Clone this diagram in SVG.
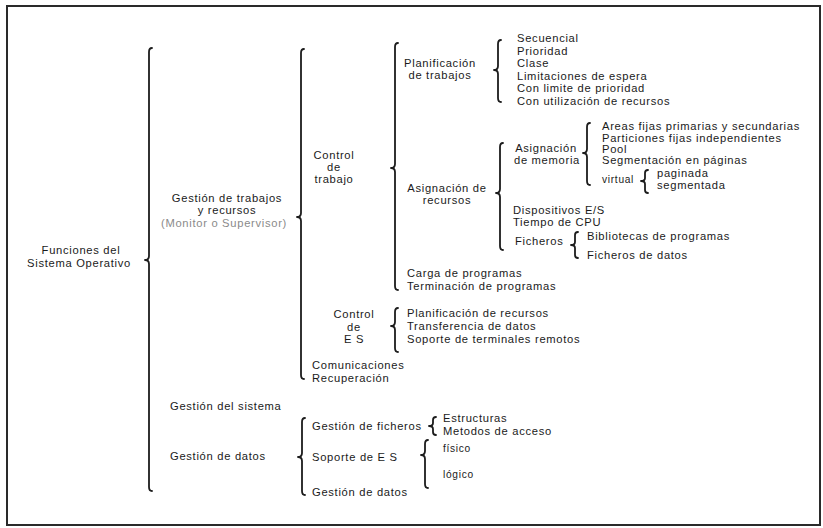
<svg xmlns="http://www.w3.org/2000/svg" width="823" height="528" viewBox="0 0 823 528">
  <style>
    .frame { fill: none; stroke: #2a2a2a; stroke-width: 2; }
    .brace { fill: none; stroke: #1c1c1c; stroke-width: 1.8; stroke-linecap: round; stroke-linejoin: round; }
    text { font-family: "Liberation Sans", Arial, sans-serif; font-size: 11.2px; letter-spacing: 0.7px; fill: #1a1a1a; }
    .c { text-anchor: middle; }
    .sm { font-size: 10.2px; }
    .faded { fill: #8a8a8a; }
  </style>

  <rect width="823" height="528" fill="#ffffff"/>
  <rect class="frame" x="7" y="6" width="813" height="519"/>

  <!-- braces: top end, cusp, bottom end -->
  <g id="connectors">
    <path class="brace" d="M152,48 Q149,48 149,52 L149,256 Q149,260 145,260 Q149,260 149,264 L149,487 Q149,491 152,491"/>
    <path class="brace" d="M304,49 Q301,49 301,53 L301,213 Q301,217 297,217 Q301,217 301,221 L301,375 Q301,379 304,379"/>
    <path class="brace" d="M305,418 Q302,418 302,422 L302,453 Q302,457 298,457 Q302,457 302,461 L302,491 Q302,495 305,495"/>
    <path class="brace" d="M398,43 Q395,43 395,47 L395,164 Q395,168 391,168 Q395,168 395,172 L395,286 Q395,290 398,290"/>
    <path class="brace" d="M398,308 Q395,308 395,312 L395,322 Q395,326 391,326 Q395,326 395,330 L395,348 Q395,352 398,352"/>
    <path class="brace" d="M501,40 Q498,40 498,44 L498,66 Q498,70 494,70 Q498,70 498,74 L498,98 Q498,102 501,102"/>
    <path class="brace" d="M503,143 Q500,143 500,147 L500,189 Q500,193 496,193 Q500,193 500,197 L500,246 Q500,250 503,250"/>
    <path class="brace" d="M590,123 Q587,123 587,127 L587,149 Q587,153 583,153 Q587,153 587,157 L587,181 Q587,185 590,185"/>
    <path class="brace" d="M648,170 Q645,170 645,173 L645,178 Q645,181 641,181 Q645,181 645,184 L645,190 Q645,193 648,193"/>
    <path class="brace" d="M578,232 Q575,232 575,235 L575,242 Q575,245 571,245 Q575,245 575,248 L575,255 Q575,258 578,258"/>
    <path class="brace" d="M436,417 Q433,417 433,420 L433,423 Q433,426 429,426 Q433,426 433,429 L433,432 Q433,435 436,435"/>
    <path class="brace" d="M428,440 Q425,440 425,444 L425,451 Q425,455 421,455 Q425,455 425,459 L425,484 Q425,488 428,488"/>
  </g>

  <g id="root">
    <text class="c" x="81" y="254">Funciones del</text>
    <text class="c" x="79" y="267">Sistema Operativo</text>
  </g>

  <g id="gestion-trabajos">
    <text class="c" x="227" y="201.5">Gestión de trabajos</text>
    <text class="c" x="227" y="214">y recursos</text>
    <text class="c faded" x="224" y="226.5">(Monitor o Supervisor)</text>
  </g>
  <g id="gestion-sistema"><text x="170" y="410">Gestión del sistema</text></g>
  <g id="gestion-datos"><text x="170" y="460">Gestión de datos</text></g>

  <g id="control-trabajo">
    <text class="c" x="334" y="159">Control</text>
    <text class="c" x="334" y="170.5">de</text>
    <text class="c" x="334" y="183">trabajo</text>
  </g>
  <g id="control-es">
    <text class="c" x="354" y="318">Control</text>
    <text class="c" x="354" y="330.5">de</text>
    <text class="c" x="354" y="343">E S</text>
  </g>
  <g id="comunicaciones">
    <text x="312" y="369">Comunicaciones</text>
    <text x="312" y="382">Recuperación</text>
  </g>
  <g id="gestion-ficheros"><text x="312" y="430">Gestión de ficheros</text></g>
  <g id="soporte-es"><text x="312" y="461">Soporte de E S</text></g>
  <g id="gestion-datos-2"><text x="312" y="496">Gestión de datos</text></g>

  <g id="planificacion-trabajos">
    <text class="c" x="440" y="66.5">Planificación</text>
    <text class="c" x="440" y="78.5">de trabajos</text>
  </g>
  <g id="planificacion-lista">
    <text x="517" y="42">Secuencial</text>
    <text x="517" y="54.5">Prioridad</text>
    <text x="517" y="67">Clase</text>
    <text x="517" y="79.5">Limitaciones de espera</text>
    <text x="517" y="92">Con limite de prioridad</text>
    <text x="517" y="104.5">Con utilización de recursos</text>
  </g>

  <g id="asignacion-recursos">
    <text class="c" x="447" y="192">Asignación de</text>
    <text class="c" x="447" y="204">recursos</text>
  </g>
  <g id="asignacion-memoria">
    <text class="c" x="546" y="152">Asignación</text>
    <text class="c" x="547" y="163.5">de memoria</text>
  </g>
  <g id="memoria-lista">
    <text x="602" y="130">Areas fijas primarias y secundarias</text>
    <text x="602" y="141.5">Particiones fijas independientes</text>
    <text x="602" y="152.5">Pool</text>
    <text x="602" y="164">Segmentación en páginas</text>
    <text class="sm" x="602" y="183">virtual</text>
  </g>
  <g id="virtual-lista">
    <text x="657" y="177">paginada</text>
    <text x="657" y="188.5">segmentada</text>
  </g>
  <g id="dispositivos">
    <text x="513" y="214">Dispositivos E/S</text>
    <text x="513" y="225.5">Tiempo de CPU</text>
  </g>
  <g id="ficheros">
    <text x="515" y="245">Ficheros</text>
  </g>
  <g id="ficheros-lista">
    <text x="587" y="240">Bibliotecas de programas</text>
    <text x="587" y="259">Ficheros de datos</text>
  </g>
  <g id="carga">
    <text x="407" y="276.5">Carga de programas</text>
    <text x="407" y="289.5">Terminación de programas</text>
  </g>
  <g id="es-lista">
    <text x="407" y="317">Planificación de recursos</text>
    <text x="407" y="330">Transferencia de datos</text>
    <text x="407" y="343">Soporte de terminales remotos</text>
  </g>
  <g id="ficheros-gestion-lista">
    <text x="443" y="422">Estructuras</text>
    <text x="443" y="435">Metodos de acceso</text>
  </g>
  <g id="soporte-lista">
    <text class="sm" x="443" y="452">físico</text>
    <text class="sm" x="443" y="478">lógico</text>
  </g>
</svg>
